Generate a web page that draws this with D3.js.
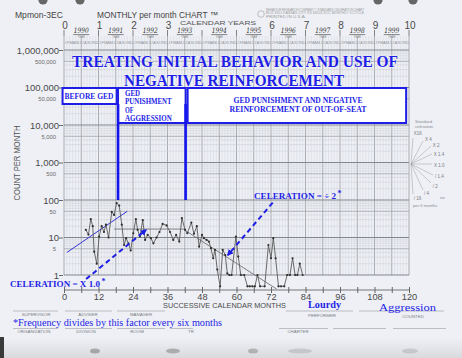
<!DOCTYPE html>
<html><head><meta charset="utf-8">
<script src="https://cdn.jsdelivr.net/npm/d3@7"></script>
<style>body{margin:0;background:#eef0f5;} svg{display:block}</style>
</head><body>
<svg id="c" width="462" height="358"></svg>
<script>
// ---------- data ----------
const months = [7.6,8.5,9.3,10,10.5,11.4,12.2,13.1,13.9,14.6,15.5,16.6,17.4,18.3,19.2,20.1,20.9,21.6,22.4,23.2,24.1,25,25.6,26.4,27.4,28.2,29.1,30.2,31.1,32.2,33.2,34.3,35.7,36.9,38,39,40.1,41,42.1,42.9,44.3,45.2,46.2,47,48,48.7,49.6,50.4,51.1,51.9,52.5,53.3,54.3,55.2,56.1,56.8,57.5,58.3,59.8,60.6,61.5,62.7,63.8,64.6,65.5,66.4,67.3,68.2,69.8,71.1,72,72.8,73.6,74.6,75.5,76.6,77.6,78.6,79.5,80.4,81.2,82,83];
const counts = [16,12,31,20,4.2,2,10.6,20,14,22,10,48,40,83,71,22,6.3,9.6,7,4.5,13,31,16,10.6,29,8.6,11.7,9.6,7,10,14,23,21,14,8.6,11.7,7.8,33,16,13,25,12.5,20,5.7,11.7,9.6,8.6,7.8,5.2,2.8,4.7,1.4,0,4.7,3.4,1.1,1,1,10.6,3.1,1,1,0,0,0,0,1,0,0,6.3,2.8,9.6,2.8,0,0,0,1,1,2.8,1,1,2,1];
const zeroLevel = 0.5;                       // where zero counts are recorded
const baselineTrend = [[1,4],[22,50]];        // thin blue line
const flatTrend = [[17.4,16.8],[42.4,16.8]];  // x1.0 celeration
const decelTrend = [[42.4,15],[74,0.42]];     // /2 celeration
const arrowX10 = [[7.7,0.78],[28.5,15.9]];
const arrowDiv2 = [[72.6,85],[57,3.4]];
const phaseMonths = [18.8, 42.3];
const xTickLabels = [0,12,24,36,48,60,72,84,96,108,120];
const yearNumbers = [0,1,2,3,6,7,8,9,10];
const calendarYears = ["1990","1991","1992","1993","1994","1995","1996","1997","1998","1999"];
const monthLetters = ["J","F","M","A","M","J","J","A","S","O","N","D"];
const decadeValues = [1,10,100,1000,10000,100000,1000000];
const fiveValues = [5,50,500,5000,50000,500000];
const fanLabels = ["X16","X 4","X 2","X 1.4","X 1.0","/ 1.4","/ 2","/ 4","/ 16"];

// ---------- setup ----------
const svg = d3.select("#c");
const blue = "#1e1ee6";
const x = d3.scaleLinear().domain([0,120]).range([64,409]);
const y = d3.scaleLog().domain([1,1e6]).range([275,50]);
const yv = v => y(v > 0 ? v : zeroLevel);

svg.append("rect").attr("width",462).attr("height",358).attr("fill","#eef0f5");

const defs = svg.append("defs");
defs.append("marker").attr("id","arr").attr("viewBox","0 0 10 10").attr("refX",8).attr("refY",5)
  .attr("markerWidth",3.2).attr("markerHeight",3.2).attr("orient","auto")
  .append("path").attr("d","M0,0L10,5L0,10z").attr("fill",blue);
const bg = defs.append("linearGradient").attr("id","scan").attr("x1",0).attr("x2",0).attr("y1",0).attr("y2",1);
bg.append("stop").attr("offset","0").attr("stop-color","#eef0f5");
bg.append("stop").attr("offset","1").attr("stop-color","#d9dade");

// ---------- grid ----------
const grid = svg.append("g");
d3.range(0,121).forEach(m => {
  const major = m % 6 === 0;
  grid.append("line").attr("x1",x(m)).attr("x2",x(m)).attr("y1",36).attr("y2",y(1))
    .attr("stroke", major ? "#979aa0" : "#d3d6dc").attr("stroke-width", major ? 0.8 : 0.5);
});
for (let k = 0; k < 6; k++) {
  for (let m = 1; m <= 9; m++) {
    const v = m * Math.pow(10,k);
    grid.append("line").attr("x1",x(0)).attr("x2",x(120)).attr("y1",y(v)).attr("y2",y(v))
      .attr("stroke", m===1 ? "#83878d" : (m===5 ? "#a0a4aa" : "#cacdd3"))
      .attr("stroke-width", m===1 ? 1 : (m===5 ? 0.8 : 0.5));
  }
}
grid.append("line").attr("x1",x(0)).attr("x2",x(120)).attr("y1",y(1e6)).attr("y2",y(1e6))
  .attr("stroke","#83878d").attr("stroke-width",1);

// month letters and year ticks on top
d3.range(0,120).forEach(m => {
  svg.append("text").attr("x",x(m+0.5)).attr("y",44).attr("text-anchor","middle")
    .attr("font-family","Liberation Sans").attr("font-size",3.6).attr("fill","#8a8d93")
    .text(monthLetters[m % 12]);
});
xTickLabels.forEach(m => {
  svg.append("line").attr("x1",x(m)).attr("x2",x(m)).attr("y1",30).attr("y2",36)
    .attr("stroke","#666").attr("stroke-width",0.8);
});
yearNumbers.forEach(n => {
  svg.append("text").attr("x",x(n*12)+1).attr("y",29).attr("text-anchor","middle")
    .attr("font-family","Liberation Sans").attr("font-size",10).attr("fill","#4a4a4a").text(n);
});
calendarYears.forEach((t,i) => {
  const cx = x(i*12+6);
  svg.append("text").attr("x",cx).attr("y",33).attr("text-anchor","middle")
    .attr("font-family","DejaVu Serif").attr("font-style","italic").attr("font-size",7.5)
    .attr("fill","#333").attr("textLength",15).attr("lengthAdjust","spacingAndGlyphs").text(t);
  svg.append("line").attr("x1",cx-8).attr("x2",cx+8).attr("y1",34.6).attr("y2",34.6)
    .attr("stroke","#555").attr("stroke-width",0.7);
  svg.append("text").attr("x",cx).attr("y",38.2).attr("text-anchor","middle")
    .attr("font-family","Liberation Sans").attr("font-size",2.6).attr("fill","#888").text("YEAR");
});
svg.append("text").attr("x",180).attr("y",24.5).attr("font-family","Liberation Sans")
  .attr("font-size",5.5).attr("fill","#555").attr("textLength",76).attr("lengthAdjust","spacingAndGlyphs")
  .text("CALENDAR YEARS");

// header
svg.append("text").attr("x",15).attr("y",17.5).attr("font-family","Liberation Sans").attr("font-size",8.5)
  .attr("fill","#444").attr("textLength",48).attr("lengthAdjust","spacingAndGlyphs").text("Mpmon-3EC");
svg.append("text").attr("x",97).attr("y",17.5).attr("font-family","Liberation Sans").attr("font-size",8.5)
  .attr("fill","#444").attr("textLength",121).attr("lengthAdjust","spacingAndGlyphs").text("MONTHLY per month CHART \u2122");
svg.append("circle").attr("cx",261).attr("cy",14).attr("r",3.3).attr("fill","none").attr("stroke","#999").attr("stroke-width",0.6);
["BEHAVIOR RESEARCH COMPANY  \u00A9 STANDARD CELERATION CHART","BOX 3351 KANSAS CITY KS 66103  SCC MONTHLY 3 CYCLE","PRINTED IN U.S.A."].forEach((t,i)=>{
  svg.append("text").attr("x",266).attr("y",10.5+i*3.8).attr("font-family","Liberation Sans").attr("font-size",2.8)
    .attr("fill","#9a9a9a").attr("textLength", i===2 ? 40 : 98).attr("lengthAdjust","spacingAndGlyphs").text(t);
});
// punch holes
[[43,0],[80,0],[378,0],[413,0]].forEach(([cx,cy]) => {
  svg.append("circle").attr("cx",cx).attr("cy",cy).attr("r",4.6).attr("fill","#666");
});

// ---------- y axis ----------
const yAxisMajor = d3.axisLeft(y).tickValues(decadeValues).tickFormat(d3.format(",")).tickSize(4).tickPadding(0);
const gy = svg.append("g").attr("transform",`translate(${x(0)-1},0)`).call(yAxisMajor);
gy.select(".domain").remove();
gy.selectAll("line").attr("stroke","#666");
gy.selectAll("text").attr("font-family","Liberation Sans").attr("font-size",9.5).attr("fill","#4a4a4a");
const yAxisMinor = d3.axisLeft(y).tickValues(fiveValues).tickFormat(d3.format(",")).tickSize(0).tickPadding(7);
const gy2 = svg.append("g").attr("transform",`translate(${x(0)-1},0)`).call(yAxisMinor);
gy2.select(".domain").remove();
gy2.selectAll("text").attr("font-family","Liberation Sans").attr("font-size",5.8).attr("fill","#6a6a6a");
svg.append("text").attr("transform","translate(20,163) rotate(-90)").attr("text-anchor","middle")
  .attr("font-family","Liberation Sans").attr("font-size",8.5).attr("fill","#555")
  .attr("textLength",75).attr("lengthAdjust","spacingAndGlyphs").text("COUNT PER MONTH");

// ---------- x axis ----------
const xAxis = d3.axisBottom(x).tickValues(d3.range(0,121,6)).tickSize(3).tickPadding(1)
  .tickFormat(d => xTickLabels.includes(d) ? d : "");
const gx = svg.append("g").attr("transform","translate(0,290)").call(xAxis);
gx.select(".domain").attr("stroke","#777").attr("d",`M${x(0)},0H${x(120)}`);
gx.selectAll("line").attr("stroke","#666").attr("y1",-3);
gx.selectAll("text").attr("font-family","Liberation Sans").attr("font-size",9.3).attr("fill","#4a4a4a").attr("dy","0.6em");
svg.append("text").attr("x",163).attr("y",307.5).attr("font-family","Liberation Sans").attr("font-size",8)
  .attr("fill","#4a4a4a").attr("textLength",123).attr("lengthAdjust","spacingAndGlyphs").text("SUCCESSIVE CALENDAR MONTHS");

// ---------- title ----------
const ttl = (t,x0,yb,len) => svg.append("text").attr("x",x0).attr("y",yb).attr("font-family","Liberation Serif")
  .attr("font-weight","bold").attr("font-size",16.5).attr("fill",blue).attr("stroke","#ffffff").attr("stroke-width",0.6)
  .attr("paint-order","stroke").attr("textLength",len).attr("lengthAdjust","spacingAndGlyphs").text(t);
ttl("TREATING INITIAL BEHAVIOR AND USE OF",72,67,326);
ttl("NEGATIVE REINFORCEMENT",124,85.5,220);

// ---------- phase boxes ----------
const box = (m0,m1,y0,y1) => svg.append("rect").attr("x",x(m0)).attr("y",y0).attr("width",x(m1)-x(m0))
  .attr("height",y1-y0).attr("fill","#ffffff").attr("stroke",blue).attr("stroke-width",2);
box(-0.5,18.3,88,104);
box(phaseMonths[0],phaseMonths[1],88,123);
box(43,119,88,123);
phaseMonths.forEach(m => {
  svg.append("line").attr("x1",x(m)).attr("x2",x(m)).attr("y1",104).attr("y2",y(100))
    .attr("stroke","#1414f0").attr("stroke-width",2.6);
});
const bt = (t,x0,yb,len) => svg.append("text").attr("x",x0).attr("y",yb).attr("font-family","Liberation Serif")
  .attr("font-weight","bold").attr("font-size",7.3).attr("fill",blue)
  .attr("textLength",len).attr("lengthAdjust","spacingAndGlyphs").text(t);
bt("BEFORE GED",64.5,98.5,49);
bt("GED",125,96,15);
bt("PUNISHMENT",125,104.3,46.7);
bt("OF",125,112.5,8.5);
bt("AGGRESSION",125,120.7,46.7);
bt("GED PUNISHMENT AND NEGATIVE",233.5,102.7,129);
bt("REINFORCEMENT OF OUT-OF-SEAT",229.5,112.3,137);

// ---------- trend lines ----------
const ln = d3.line().x(d => x(d[0])).y(d => yv(d[1]));
svg.append("path").attr("d",ln(baselineTrend)).attr("fill","none").attr("stroke","#3434d8").attr("stroke-width",1);
svg.append("path").attr("d",ln(flatTrend)).attr("fill","none").attr("stroke","#6f7277").attr("stroke-width",0.9);
svg.append("path").attr("d",ln(decelTrend)).attr("fill","none").attr("stroke","#6f7277").attr("stroke-width",0.9);

// ---------- data ----------
const pts = months.map((m,i) => [m, counts[i]]);
svg.append("path").attr("d",ln(pts)).attr("fill","none").attr("stroke","#5a5a5a").attr("stroke-width",0.9);
svg.append("g").selectAll("circle").data(pts).join("circle")
  .attr("cx",d => x(d[0])).attr("cy",d => yv(d[1])).attr("r",1.1).attr("fill","#2e2e2e");

// ---------- celeration arrows ----------
[arrowX10, arrowDiv2].forEach(a => {
  svg.append("path").attr("d",ln(a)).attr("fill","none").attr("stroke",blue).attr("stroke-width",2)
    .attr("stroke-dasharray","5,3.5").attr("marker-end","url(#arr)");
});
const cel = (t,x0,yb,len) => {
  svg.append("text").attr("x",x0).attr("y",yb).attr("font-family","Liberation Serif").attr("font-weight","bold")
    .attr("font-size",8.5).attr("fill",blue).attr("textLength",len).attr("lengthAdjust","spacingAndGlyphs").text(t);
  svg.append("text").attr("x",x0+len+1.5).attr("y",yb-3.5).attr("font-family","Liberation Serif").attr("font-weight","bold")
    .attr("font-size",8).attr("fill",blue).text("*");
};
cel("CELERATION = X 1.0",10,287,90);
cel("CELERATION = \u00F7 2",254,199.3,82);

// ---------- standard celeration fan ----------
const fc = [411,164];
const fanEnds = [[413,138],[423,141],[431,146],[432,154],[432,164],[433,175],[431,183],[423,190],[413,194]];
const fanText = [[413.7,135],[425,140.5],[432.7,146.5],[433.7,155.5],[434,166.5],[435,178],[432.7,188],[424,194.5],[413.7,199.5]];
fanEnds.forEach(e => svg.append("line").attr("x1",fc[0]).attr("y1",fc[1]).attr("x2",e[0]).attr("y2",e[1])
  .attr("stroke","#9a9ca2").attr("stroke-width",0.5));
fanLabels.forEach((t,i) => svg.append("text").attr("x",fanText[i][0]).attr("y",fanText[i][1])
  .attr("font-family","Liberation Sans").attr("font-size",4.5).attr("fill","#7a7c82").text(t));
[["Standard",415,122.5],["celeration",415,127.5],["no",440,199],["per 6 months",413,206.7]].forEach(([t,a,b]) =>
  svg.append("text").attr("x",a).attr("y",b).attr("font-family","Liberation Sans").attr("font-size",4.2).attr("fill","#8a8c92").text(t));

// ---------- form area ----------
const rule = (x1,x2,yy) => svg.append("line").attr("x1",x1).attr("x2",x2).attr("y1",yy).attr("y2",yy).attr("stroke","#9a9ca2").attr("stroke-width",0.6);
[[13,58],[65,112],[117,165],[286,353],[359,444]].forEach(r => rule(r[0],r[1],311));
[[13,58],[65,112],[117,165],[170,193],[279,328],[333,386],[393,446]].forEach(r => rule(r[0],r[1],328.5));
const small = (t,cx,yb) => svg.append("text").attr("x",cx).attr("y",yb).attr("text-anchor","middle")
  .attr("font-family","Liberation Sans").attr("font-size",4.4).attr("fill","#7a7c82").text(t);
small("SUPERVISOR",36,315.5); small("ADVISER",88,315.5); small("MANAGER",141,315.5);
small("PERFORMER",322,316.5); small("COUNTED",413,317.5);
small("ORGANIZATION",34,333); small("DIVISION",86,333); small("ROOM",137,333); small("TR",191,333); small("CHARTER",298,333);

svg.append("text").attr("x",308).attr("y",308).attr("font-family","Liberation Serif").attr("font-weight","bold")
  .attr("font-size",9.5).attr("fill",blue).attr("textLength",33).attr("lengthAdjust","spacingAndGlyphs").text("Lourdy");
svg.append("text").attr("x",379).attr("y",311).attr("font-family","Liberation Serif")
  .attr("font-size",11).attr("fill",blue).attr("textLength",57).attr("lengthAdjust","spacingAndGlyphs").text("Aggression");
svg.append("text").attr("x",13).attr("y",325.5).attr("font-family","Liberation Serif")
  .attr("font-size",10).attr("fill",blue).attr("textLength",209).attr("lengthAdjust","spacingAndGlyphs")
  .text("*Frequency divides by this factor every six months");

// ---------- scan edges ----------
svg.append("rect").attr("x",0).attr("y",338).attr("width",462).attr("height",20).attr("fill","url(#scan)");
[[95,351,5,0.55],[173,351,7,0.5],[253,351,5,0.45],[300,351,12,0.25],[410,351,8,0.25]].forEach(([cx,cy,rx,o]) =>
  svg.append("ellipse").attr("cx",cx).attr("cy",cy).attr("rx",rx).attr("ry",2.5).attr("fill","#777").attr("opacity",o));
svg.append("rect").attr("x",0).attr("y",337).attr("width",4).attr("height",21).attr("fill","#3a3a3a");
</script>
</body></html>
